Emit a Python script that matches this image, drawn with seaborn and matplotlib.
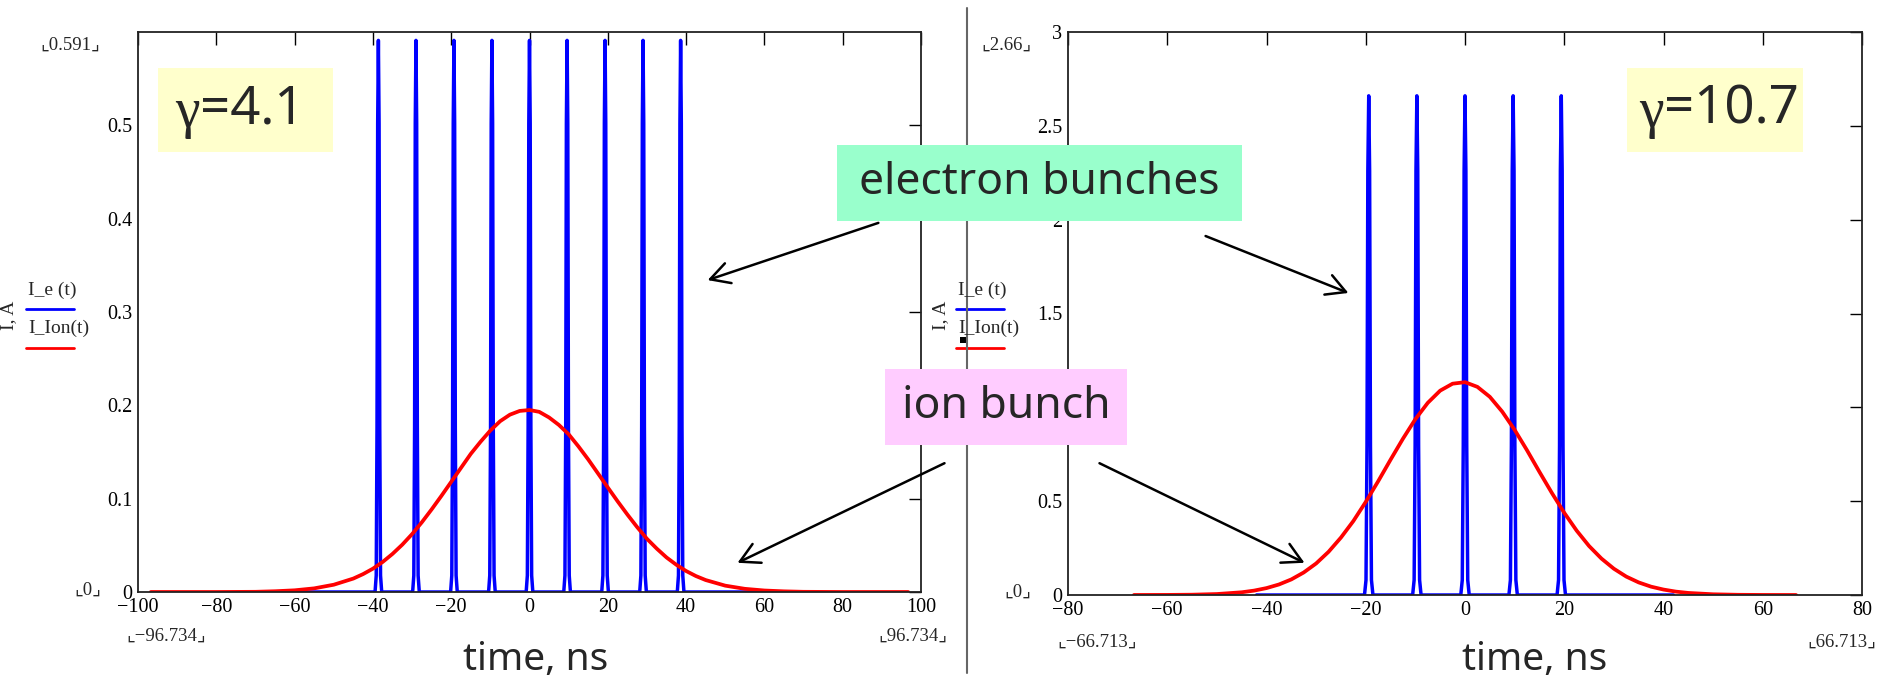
import matplotlib
matplotlib.use("Agg")
import matplotlib.pyplot as plt
import seaborn as sns
from matplotlib.patches import Rectangle, FancyArrowPatch
from matplotlib.lines import Line2D

# electron bunches: peak times (ns), peak current (A), and the span of the blue trace
left_bunch_t = [-38.6, -29.0, -19.3, -9.6, 0.0, 9.6, 19.3, 29.0, 38.6]
left_bunch_peak = 0.591
left_e_span = [-60.0, 60.0]
right_bunch_t = [-19.4, -9.7, 0.0, 9.7, 19.4]
right_bunch_peak = 2.66
right_e_span = [-42.0, 42.0]

# shape of one bunch (offset in ns, fraction of peak)
pulse_offset = [-0.85, -0.55, -0.35, -0.18, 0.0, 0.18, 0.35, 0.55, 0.85]
pulse_shape = [0.0, 0.03, 0.3, 0.85, 1.0, 0.85, 0.3, 0.03, 0.0]

# ion bunch, left (gamma = 4.1)
left_ion_t = [-96.734, -80, -70, -65, -60, -55, -50, -45, -42.5, -40, -37.5, -35, -32.5, -30,
              -27.5, -25, -22.5, -20, -17.5, -15, -12.5, -10, -7.5, -5, -2.5, 0, 2.5, 5, 7.5,
              10, 12.5, 15, 17.5, 20, 22.5, 25, 27.5, 30, 32.5, 35, 37.5, 40, 42.5, 45, 50,
              55, 60, 65, 70, 80, 96.734]
left_ion_i = [0, 0, 0.0002, 0.0008, 0.0018, 0.0039, 0.0078, 0.0144, 0.0192, 0.025, 0.0322,
              0.0408, 0.0507, 0.062, 0.0747, 0.0885, 0.103, 0.118, 0.133, 0.148, 0.161, 0.173,
              0.183, 0.190, 0.194, 0.195, 0.193, 0.187, 0.179, 0.169, 0.156, 0.142, 0.127,
              0.112, 0.0972, 0.083, 0.0695, 0.057, 0.0465, 0.037, 0.0292, 0.0225, 0.0171,
              0.0128, 0.0068, 0.0034, 0.0016, 0.0007, 0.0002, 0, 0]

# ion bunch, right (gamma = 10.7)
right_ion_t = [-66.713, -60, -55, -50, -45, -42.5, -40, -37.5, -35, -32.5, -30, -27.5, -25,
               -22.5, -20, -17.5, -15, -12.5, -10, -7.5, -5, -2.5, 0, 2.5, 5, 7.5, 10, 12.5,
               15, 17.5, 20, 22.5, 25, 27.5, 30, 32.5, 35, 37.5, 40, 42.5, 45, 50, 55, 60,
               66.713]
right_ion_i = [0.0001, 0.0005, 0.0016, 0.0051, 0.0145, 0.0234, 0.0368, 0.056, 0.083, 0.120,
               0.168, 0.230, 0.306, 0.394, 0.496, 0.606, 0.721, 0.833, 0.937, 1.024, 1.089,
               1.126, 1.134, 1.109, 1.056, 0.977, 0.880, 0.771, 0.656, 0.544, 0.438, 0.343,
               0.261, 0.194, 0.140, 0.098, 0.067, 0.0444, 0.029, 0.018, 0.011, 0.0038,
               0.0011, 0.0003, 0.0]

left_xticks = [-100, -80, -60, -40, -20, 0, 20, 40, 60, 80, 100]
left_yticks = [0, 0.1, 0.2, 0.3, 0.4, 0.5]
left_ylabels = ["0", "0.1", "0.2", "0.3", "0.4", "0.5"]
right_xticks = [-80, -60, -40, -20, 0, 20, 40, 60, 80]
right_yticks = [0, 0.5, 1, 1.5, 2, 2.5, 3]
right_ylabels = ["0", "0.5", "1", "1.5", "2", "2.5", "3"]

sns.set_style("white")
plt.rcParams["font.family"] = ["Liberation Serif", "DejaVu Sans"]

W, H = 1880, 685


def fx(x):
    return x / W


def fy(y):
    return 1 - y / H


def bunch_trace(peaks, height, span):
    t = [span[0]]
    i = [0.0]
    for p in peaks:
        for off, frac in zip(pulse_offset, pulse_shape):
            t.append(p + off)
            i.append(height * frac)
    t.append(span[1])
    i.append(0.0)
    return t, i


fig = plt.figure(figsize=(18.8, 6.85), dpi=100)
ax1 = fig.add_axes([fx(138), fy(592), (921 - 138) / W, (592 - 32) / H])
ax2 = fig.add_axes([fx(1068), fy(595), (1862 - 1068) / W, (595 - 32) / H])

panels = [
    (ax1, left_bunch_t, left_bunch_peak, left_e_span, left_ion_t, left_ion_i,
     (-100, 100), (0, 0.6), left_xticks, left_yticks, left_ylabels),
    (ax2, right_bunch_t, right_bunch_peak, right_e_span, right_ion_t, right_ion_i,
     (-80, 80), (0, 3), right_xticks, right_yticks, right_ylabels),
]

for ax, bt, bp, span, it, ii, xl, yl, xt, yt, ylab in panels:
    et, ei = bunch_trace(bt, bp, span)
    sns.lineplot(x=et, y=ei, ax=ax, color="#0000ff", lw=2.5, estimator=None, sort=False)
    sns.lineplot(x=it, y=ii, ax=ax, color="#ff0000", lw=2.7, estimator=None, sort=False)
    ax.set_xlim(*xl)
    ax.set_ylim(*yl)
    ax.set_xticks(xt)
    ax.set_yticks(yt)
    ax.set_yticklabels(ylab)
    ax.tick_params(direction="in", length=9, width=1, top=True, right=True,
                   labelsize=14.5, pad=4, colors="black")
    for s in ax.spines.values():
        s.set_color("#222222")
        s.set_linewidth(1.3)
    ax.set_xlabel("")
    ax.set_ylabel("")

# Mathcad style range markers
marks = [("⌞0.591⌟", 70, 45), ("⌞0⌟", 88, 590), ("⌞−96.734⌟", 166, 636),
         ("⌞96.734⌟", 913, 636), ("⌞2.66⌟", 1006, 45), ("⌞0⌟", 1018, 592),
         ("⌞−66.713⌟", 1097, 642), ("⌞66.713⌟", 1842, 642)]
for s, x, y in marks:
    fig.text(fx(x), fy(y), s, ha="center", va="center", fontsize=13.5)

# axis name and legends
for x0 in [9, 941]:
    fig.text(fx(x0), fy(315), "I, A", rotation=90, ha="center", va="center", fontsize=14)
for x0 in [26, 956]:
    fig.text(fx(x0 + 2), fy(290), "I_e (t)", ha="left", va="center", fontsize=14)
    fig.text(fx(x0 + 2), fy(328), "I_Ion(t)", ha="left", va="center", fontsize=14)
    fig.add_artist(Line2D([fx(x0), fx(x0 + 48)], [fy(309), fy(309)], color="#0000ff", lw=2))
    fig.add_artist(Line2D([fx(x0), fx(x0 + 48)], [fy(348), fy(348)], color="#ff0000", lw=2))
fig.add_artist(Rectangle((fx(960), fy(343)), 6 / W, 6 / H, transform=fig.transFigure,
                         fc="black", ec="none"))

# divider between the two panels
fig.add_artist(Line2D([fx(967), fx(967)], [fy(8), fy(673)], color="#666666", lw=1.5))

# x labels
for xc in [536, 1535]:
    fig.text(fx(xc), fy(660), "time, ns", ha="center", va="center", fontsize=28,
             family="Noto Sans")

# boxes with big labels
boxes = [(158, 68, 333, 152, "#ffffcc"), (1627, 68, 1803, 152, "#ffffcc"),
         (837, 145, 1242, 221, "#99ffcc"), (885, 369, 1127, 445, "#ffccff")]
for x0, y0, x1, y1, fc in boxes:
    fig.add_artist(Rectangle((fx(x0), fy(y1)), (x1 - x0) / W, (y1 - y0) / H,
                             transform=fig.transFigure, fc=fc, ec="none", zorder=3))

fig.text(fx(1039), fy(183), "electron bunches", ha="center", va="center", fontsize=32,
         family="Noto Sans", zorder=4)
fig.text(fx(1006), fy(407), "ion bunch", ha="center", va="center", fontsize=32,
         family="Noto Sans", zorder=4)
# gamma in a serif face, the rest in sans
for xs, val in [(200, "=4.1"), (1664, "=10.7")]:
    fig.text(fx(xs), fy(113), "γ", ha="right", va="center", fontsize=40,
             family="Liberation Serif", zorder=4)
    fig.text(fx(xs), fy(110), val, ha="left", va="center", fontsize=38,
             family="Noto Sans", zorder=4)

# arrows
arrows = [((881, 222), (705, 281)), ((1203, 235), (1351, 294)),
          ((947, 462), (735, 564)), ((1097, 462), (1307, 564))]
for a, b in arrows:
    fig.add_artist(FancyArrowPatch((fx(a[0]), fy(a[1])), (fx(b[0]), fy(b[1])),
                                   transform=fig.transFigure,
                                   arrowstyle="->,head_length=0.55,head_width=0.3",
                                   mutation_scale=25, lw=1.8, color="black", zorder=5))

plt.savefig("out.png", dpi=100)
